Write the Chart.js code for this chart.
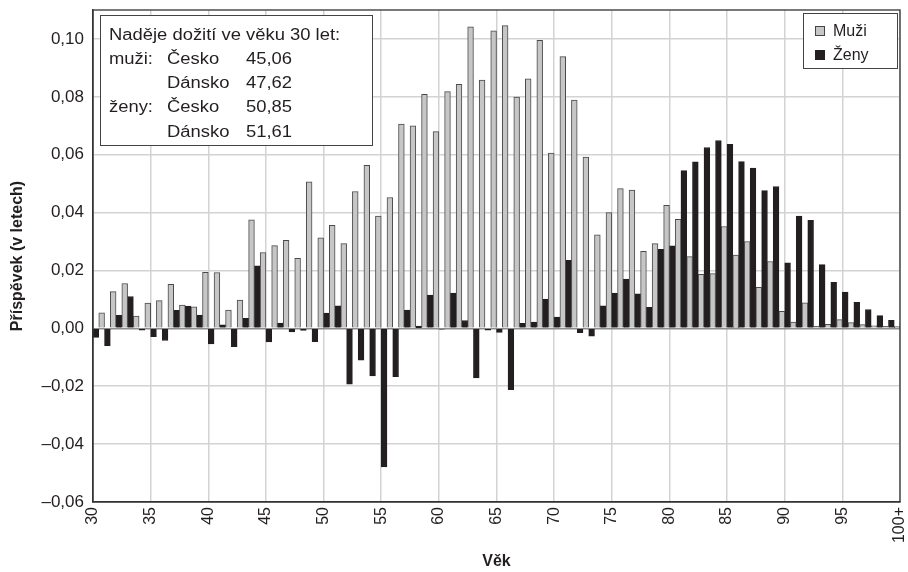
<!DOCTYPE html>
<html>
<head>
<meta charset="utf-8">
<script src="https://cdn.jsdelivr.net/npm/chart.js@4/dist/chart.umd.min.js"></script>
<style>
  body { margin: 0; background: #fff; }
  #wrap { width: 908px; height: 572px; }
</style>
</head>
<body>
<div id="wrap"><canvas id="myChart" width="908" height="572"></canvas></div>
<script>
const ages = [];
for (let a = 30; a < 100; a++) ages.push(String(a));
ages.push("100+");

// contribution to the life-expectancy gap, by age (years)
const muzi = [
    0.0000, 0.0054, 0.0127, 0.0155, 0.0042, 0.0087, 0.0096, 0.0152, 0.0080, 0.0074,
    0.0194, 0.0193, 0.0063, 0.0098, 0.0375, 0.0262, 0.0286, 0.0304, 0.0242, 0.0506,
    0.0313, 0.0356, 0.0293, 0.0473, 0.0563, 0.0388, 0.0452, 0.0706, 0.0700, 0.0809,
    0.0680, 0.0818, 0.0843, 0.1042, 0.0858, 0.1028, 0.1046, 0.0799, 0.0862, 0.0995,
    0.0606, 0.0939, 0.0789, 0.0592, 0.0323, 0.0400, 0.0483, 0.0478, 0.0266, 0.0293,
    0.0425, 0.0377, 0.0248, 0.0187, 0.0189, 0.0352, 0.0253, 0.0300, 0.0142, 0.0231,
    0.0059, 0.0022, 0.0088, 0.0007, 0.0014, 0.0030, 0.0020, 0.0013, 0.0009, 0.0007,
    0.0006,
];
const zeny = [
    -0.0031, -0.0060, 0.0045, 0.0110, -0.0006, -0.0029, -0.0042, 0.0062, 0.0077, 0.0046,
    -0.0054, 0.0012, -0.0063, 0.0035, 0.0216, -0.0047, 0.0018, -0.0012, -0.0007, -0.0046,
    0.0053, 0.0078, -0.0193, -0.0110, -0.0164, -0.0479, -0.0167, 0.0063, 0.0008, 0.0115,
    -0.0003, 0.0122, 0.0027, -0.0171, -0.0006, -0.0014, -0.0212, 0.0017, 0.0022, 0.0101,
    0.0039, 0.0235, -0.0015, -0.0027, 0.0078, 0.0122, 0.0170, 0.0119, 0.0073, 0.0273,
    0.0285, 0.0545, 0.0575, 0.0625, 0.0649, 0.0636, 0.0576, 0.0554, 0.0476, 0.0490,
    0.0226, 0.0388, 0.0373, 0.0220, 0.0159, 0.0125, 0.0090, 0.0065, 0.0044, 0.0028,
    0.0020,
];
const yTicks = [-0.06, -0.04, -0.02, 0, 0.02, 0.04, 0.06, 0.08, 0.10];

const noteTitle = "Naděje dožití ve věku 30 let:";
const noteRows = [
    ["muži:", "Česko", "45,06"],
    ["", "Dánsko", "47,62"],
    ["ženy:", "Česko", "50,85"],
    ["", "Dánsko", "51,61"],
];

const FONT = '"Liberation Sans", Arial, Helvetica, sans-serif';
const GREY = "#c6c6c6";
const BLACK = "#231f20";

const fmt = (v) => v.toFixed(2).replace(".", ",").replace("-", "\u2013");

// frame, note box and legend box drawn over the plot
const boxes = {
    id: "boxes",
    afterDraw(chart) {
        const { ctx, chartArea: a } = chart;
        ctx.save();
        ctx.strokeStyle = "#333";
        ctx.lineWidth = 1.3;
        ctx.strokeRect(a.left, a.top, a.right - a.left, a.bottom - a.top);

        // note
        ctx.fillStyle = "#fff";
        ctx.fillRect(100, 15, 272, 130);
        ctx.strokeStyle = "#444";
        ctx.lineWidth = 1;
        ctx.strokeRect(100.5, 15.5, 272, 130);
        ctx.fillStyle = "#231f20";
        ctx.font = "16px " + FONT;
        ctx.textBaseline = "alphabetic";
        ctx.save();
        ctx.translate(109, 0);
        ctx.scale(1.15, 1);
        ctx.fillText(noteTitle, 0, 39.5);
        ctx.restore();
        noteRows.forEach((r, i) => {
            const y = 39.5 + (i + 1) * 24.3;
            [[r[0], 109], [r[1], 167], [r[2], 246]].forEach(([t, x]) => {
                ctx.save();
                ctx.translate(x, 0);
                ctx.scale(1.15, 1);
                ctx.fillText(t, 0, y);
                ctx.restore();
            });
        });

        // legend
        ctx.fillStyle = "#fff";
        ctx.fillRect(803, 13, 94, 55);
        ctx.strokeRect(803.5, 13.5, 94, 55);
        [["Muži", GREY, "#444", 36], ["Ženy", BLACK, BLACK, 60]].forEach(([t, f, s, y]) => {
            ctx.fillStyle = f;
            ctx.fillRect(815, y - 10, 10, 10);
            ctx.strokeStyle = s;
            ctx.strokeRect(815.5, y - 9.5, 9, 9);
            ctx.fillStyle = "#231f20";
            ctx.fillText(t, 833, y);
        });
        ctx.restore();
    },
};

const ctx = document.getElementById("myChart");

new Chart(ctx, {
    type: "bar",
    data: {
        labels: ages,
        datasets: [
            {
                label: "Muži",
                data: muzi,
                backgroundColor: GREY,
                borderColor: "#4a4a4a",
                borderWidth: 1,
                clip: 0,
            },
            {
                label: "Ženy",
                data: zeny,
                backgroundColor: BLACK,
                borderColor: BLACK,
                borderWidth: 1,
                clip: 0,
            },
        ],
    },
    options: {
        responsive: false,
        animation: false,
        categoryPercentage: 1,
        barPercentage: 1,
        layout: { padding: { top: 10, right: 8, left: 0, bottom: 0 } },
        plugins: {
            legend: { display: false },
            tooltip: { enabled: false },
        },
        scales: {
            x: {
                offset: false,
                afterFit: (s) => {
                    s.height = 70;
                    s.paddingLeft = 0;
                    s.paddingRight = 0;
                },
                afterBuildTicks: (s) => {
                    s.ticks = s.ticks.filter((t) => t.value % 5 === 0);
                },
                ticks: {
                    autoSkip: false,
                    minRotation: 90,
                    maxRotation: 90,
                    padding: 5,
                    color: "#231f20",
                    font: { family: FONT, size: 16 },
                },
                grid: {
                    offset: false,
                    drawTicks: false,
                    color: "#d3d3d3",
                    lineWidth: 1.5,
                },
                border: { color: "#333", width: 1.3 },
                title: {
                    display: true,
                    text: "Věk",
                    color: "#231f20",
                    font: { family: FONT, size: 16, weight: "bold" },
                    padding: { top: 0, bottom: 1 },
                },
            },
            y: {
                min: -0.06,
                max: 0.11,
                afterFit: (s) => {
                    s.width = 93;
                    s.paddingTop = 0;
                    s.paddingBottom = 0;
                },
                afterBuildTicks: (s) => {
                    s.ticks = yTicks.map((v) => ({ value: v }));
                },
                ticks: {
                    padding: 9,
                    color: "#231f20",
                    font: { family: FONT, size: 17 },
                    callback: (v) => fmt(v),
                },
                grid: {
                    drawTicks: false,
                    color: (c) => (c.tick && c.tick.value === 0 ? "#8c8c8c" : "#d3d3d3"),
                    lineWidth: 1.5,
                },
                border: { color: "#333", width: 1.3 },
                title: {
                    display: true,
                    text: "Příspěvek (v letech)",
                    color: "#231f20",
                    font: { family: FONT, size: 16, weight: "bold" },
                    padding: { top: 8, bottom: 0 },
                },
            },
        },
    },
    plugins: [boxes],
});
</script>
</body>
</html>
